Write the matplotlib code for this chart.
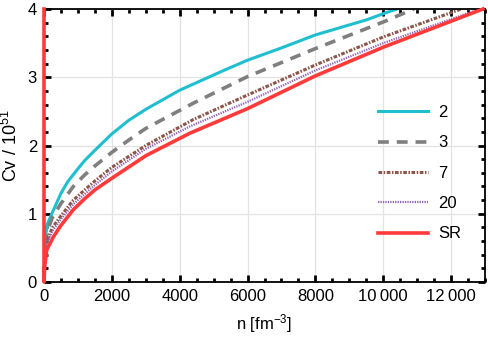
import matplotlib
matplotlib.use("Agg")
from matplotlib import pyplot as plt
from matplotlib.ticker import MultipleLocator, FuncFormatter

plt.rcParams['font.family'] = ['Liberation Sans', 'DejaVu Sans']
plt.rcParams['mathtext.default'] = 'regular'

# Данные кривых (n в fm^-3, Cv в единицах 10^51)
n_2 = [30, 100, 230, 500, 700, 1000, 1200, 1500, 2000, 2500, 3000, 4000, 5300, 6000, 7000, 8000, 9500, 10050, 10400]
cv_2 = [0.62, 0.85, 1.0, 1.3, 1.47, 1.66, 1.78, 1.93, 2.17, 2.37, 2.53, 2.81, 3.1, 3.25, 3.43, 3.62, 3.84, 3.94, 4.0]

n_3 = [30, 100, 250, 500, 864, 1200, 1500, 2000, 2500, 3000, 4400, 6000, 8000, 10000, 10900]
cv_3 = [0.55, 0.75, 0.95, 1.15, 1.40, 1.57, 1.70, 1.90, 2.08, 2.25, 2.62, 3.01, 3.42, 3.81, 4.0]

n_7 = [30, 100, 250, 500, 864, 1200, 1500, 2000, 3000, 4400, 6000, 8000, 10000, 12300]
cv_7 = [0.5, 0.62, 0.80, 0.97, 1.20, 1.35, 1.48, 1.68, 2.0, 2.38, 2.74, 3.18, 3.59, 4.0]

n_20 = [30, 100, 250, 500, 864, 1200, 1500, 2000, 3000, 4300, 6000, 8000, 10000, 12850]
cv_20 = [0.45, 0.58, 0.75, 0.92, 1.14, 1.29, 1.42, 1.62, 1.95, 2.28, 2.64, 3.10, 3.50, 4.0]

n_sr = [0, 0, 20, 80, 275, 470, 864, 1200, 1500, 2000, 3000, 4300, 6000, 8000, 10000, 12940]
cv_sr = [4.0, 0.0, 0.22, 0.47, 0.66, 0.81, 1.06, 1.22, 1.35, 1.52, 1.85, 2.18, 2.54, 3.02, 3.44, 4.0]

fig = plt.figure(figsize=(4.88, 3.38), dpi=100)
ax = fig.add_axes([44 / 488, 1 - 282 / 338, 441 / 488, 273 / 338])

ax.plot(n_2, cv_2, color='#1fbfd0', lw=2.2, label='2')
ax.plot(n_3, cv_3, color='#7f7f7f', lw=2.6, dashes=(3, 2.2), label='3')
ax.plot(n_7, cv_7, color='#8c564b', lw=2.2, dashes=(1.2, 0.5, 0.5, 0.5), label='7')
ax.plot(n_20, cv_20, color='#9467bd', lw=1.6, dashes=(0.6, 0.5), label='20')
ax.plot(n_sr, cv_sr, color='#ff3a3a', lw=2.6, label='SR', zorder=3, clip_on=False)

ax.set_xlim(0, 13000)
ax.set_ylim(0, 4)
ax.xaxis.set_major_locator(MultipleLocator(2000))
ax.xaxis.set_minor_locator(MultipleLocator(500))
ax.yaxis.set_major_locator(MultipleLocator(1))
ax.yaxis.set_minor_locator(MultipleLocator(0.2))


def fmt(v, pos):
    s = str(int(round(v)))
    if len(s) > 4:
        s = s[:-3] + '\u2009' + s[-3:]
    return s


ax.xaxis.set_major_formatter(FuncFormatter(fmt))
ax.tick_params(which='both', direction='in', top=True, right=True, width=2, labelsize=12, color='black')
ax.tick_params(which='major', length=5, pad=5)
ax.tick_params(which='minor', length=3)
ax.grid(True, which='major', color='#e3e3e3', lw=0.9)
ax.set_axisbelow(True)
for s in ax.spines.values():
    s.set_linewidth(1.3)

ax.set_xlabel('n [fm$^{-3}$]', fontsize=12, labelpad=6)
ax.set_ylabel('Cv / 10$^{51}$', fontsize=13, labelpad=5)

ax.legend(loc='upper left', bbox_to_anchor=(0.724, 0.703), frameon=False, fontsize=12,
          handlelength=3.0, handletextpad=0.6, labelspacing=0.92)

fig.savefig('out.png', dpi=100)
